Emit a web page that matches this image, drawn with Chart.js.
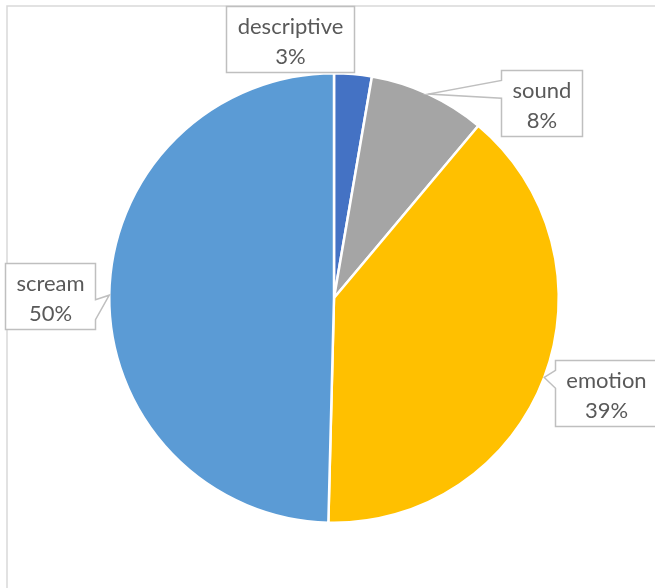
<!DOCTYPE html>
<html>
<head>
<meta charset="utf-8">
<script src="https://cdn.jsdelivr.net/npm/chart.js@4"></script>
<style>
  html, body { margin: 0; padding: 0; background: #fff; }
  #wrap { width: 655px; height: 588px; overflow: hidden; }
</style>
</head>
<body>
<div id="wrap"><canvas id="grafica" width="655" height="588"></canvas></div>
<script>
// categories and their share of the total (percent)
const categories = ["descriptive", "sound", "emotion", "scream"];
const shares = [2.7, 8.4, 39.3, 49.6];
const sliceColors = ["#4472C4", "#A5A5A5", "#FFC000", "#5B9BD5"];

// where each callout box sits: anchor corner of the box (fraction) placed at tip + (dx, dy)
const calloutPlace = [
  { ax: 1, ay: 1, dx: 1, dy: -2 },
  { ax: 0, ay: 0, dx: 73, dy: -24 },
  { ax: 0, ay: 0, dx: 11, dy: -17 },
  { ax: 1, ay: 0, dx: -14, dy: -32 }
];

const total = shares.reduce((a, b) => a + b, 0);
const pctText = shares.map(v => Math.round(v / total * 100) + "%");

// light frame around the plot
const frame = {
  id: "frame",
  beforeDraw(chart) {
    const ctx = chart.ctx;
    ctx.save();
    ctx.strokeStyle = "#D9D9D9";
    ctx.lineWidth = 1.5;
    ctx.beginPath();
    ctx.moveTo(7, 700);
    ctx.lineTo(7, 6);
    ctx.lineTo(700, 6);
    ctx.stroke();
    ctx.restore();
  }
};

// Excel-style callout labels with a wedge pointing at the slice
const callouts = {
  id: "callouts",
  afterDatasetsDraw(chart) {
    const ctx = chart.ctx;
    const arcs = chart.getDatasetMeta(0).data;
    ctx.save();
    ctx.font = "22px Lato";
    arcs.forEach((arc, i) => {
      const p = arc.getProps(["x", "y", "startAngle", "endAngle", "outerRadius"], true);
      const mid = (p.startAngle + p.endAngle) / 2;
      const tx = p.x + Math.cos(mid) * p.outerRadius;
      const ty = p.y + Math.sin(mid) * p.outerRadius;

      const l1 = categories[i], l2 = pctText[i];
      const w = Math.round(Math.max(ctx.measureText(l1).width, ctx.measureText(l2).width) + 22);
      const h = 66;
      const pl = calloutPlace[i];
      const left = Math.round(tx + pl.dx - pl.ax * w) + 0.5;
      const top = Math.round(ty + pl.dy - pl.ay * h) + 0.5;
      const right = left + w, bottom = top + h;

      const upper = ty < top + h * 0.4;
      const f1 = upper ? 0.15 : 0.55, f2 = upper ? 0.42 : 0.85;
      ctx.beginPath();
      ctx.moveTo(left, top);
      ctx.lineTo(right, top);
      if (tx > right + 5) {
        ctx.lineTo(right, top + h * f1);
        ctx.lineTo(tx, ty);
        ctx.lineTo(right, top + h * f2);
      }
      ctx.lineTo(right, bottom);
      ctx.lineTo(left, bottom);
      if (tx < left - 5) {
        ctx.lineTo(left, top + h * f2);
        ctx.lineTo(tx, ty);
        ctx.lineTo(left, top + h * f1);
      }
      ctx.closePath();
      ctx.fillStyle = "#FFFFFF";
      ctx.fill();
      ctx.strokeStyle = "#BFBFBF";
      ctx.lineWidth = 1.5;
      ctx.stroke();

      ctx.fillStyle = "#595959";
      ctx.textAlign = "center";
      ctx.textBaseline = "middle";
      const cx = left + w / 2;
      ctx.fillText(l1, cx, top + 20);
      ctx.fillText(l2, cx, top + 50);
    });
    ctx.restore();
  }
};

new Chart(document.getElementById("grafica"), {
  type: "pie",
  data: {
    labels: categories,
    datasets: [{
      data: shares,
      backgroundColor: sliceColors,
      borderColor: "#FFFFFF",
      borderWidth: 2.5
    }]
  },
  options: {
    responsive: false,
    animation: false,
    layout: { padding: { left: 108, right: 95, top: 72, bottom: 64 } },
    plugins: {
      legend: { display: false },
      tooltip: { enabled: false }
    }
  },
  plugins: [frame, callouts]
});
</script>
</body>
</html>
